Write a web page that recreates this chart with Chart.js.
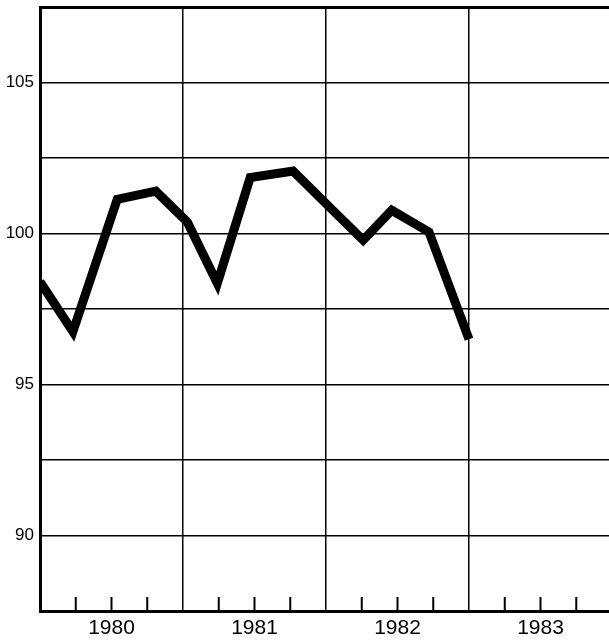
<!DOCTYPE html>
<html>
<head>
<meta charset="utf-8">
<script src="https://cdn.jsdelivr.net/npm/chart.js@4"></script>
<style>
  body { margin: 0; overflow: hidden; background: #fff; }
</style>
</head>
<body>
<canvas id="canvas" width="612" height="641"></canvas>
<script>
// quarterly index, x read as fractional years
const xYears = [1980.0, 1980.23, 1980.54, 1980.81, 1981.03, 1981.24, 1981.47, 1981.77, 1982.0, 1982.26, 1982.46, 1982.72, 1983.0];
const values = [98.4, 96.75, 101.13, 101.4, 100.38, 98.35, 101.85, 102.07, 100.99, 99.78, 100.77, 100.05, 96.5];
const yearLabels = ['1980', '1981', '1982', '1983'];
const yTickLabels = [90, 95, 100, 105];

const points = xYears.map((x, i) => ({ x: x, y: values[i] }));

// small upward ticks for each quarter
const quarterTicks = {
  id: 'quarterTicks',
  afterDatasetsDraw(chart) {
    const ctx = chart.ctx;
    const xs = chart.scales.x;
    const bottom = chart.chartArea.bottom;
    ctx.save();
    ctx.strokeStyle = '#000';
    ctx.lineWidth = 2;
    for (let y = 0; y < yearLabels.length; y++) {
      for (let q = 1; q < 4; q++) {
        const px = xs.getPixelForValue(1980 + y + q / 4);
        ctx.beginPath();
        ctx.moveTo(px, bottom);
        ctx.lineTo(px, bottom - 14);
        ctx.stroke();
      }
    }
    ctx.restore();
  }
};

var ctx = document.getElementById('canvas').getContext('2d');
var chart = new Chart(ctx, {
  type: 'line',
  data: {
    datasets: [{
      data: points,
      borderColor: '#000',
      borderWidth: 9,
      pointRadius: 0,
      tension: 0,
      fill: false,
    }]
  },
  options: {
    responsive: false,
    animation: false,
    layout: { padding: { top: 7, right: 0, left: 0, bottom: 0 } },
    plugins: { legend: { display: false }, tooltip: { enabled: false } },
    scales: {
      x: {
        type: 'linear',
        min: 1980,
        max: 1984,
        afterFit: (s) => {
          s.height = 30;
          s.paddingLeft = 0;
          s.paddingRight = 0;
        },
        ticks: {
          stepSize: 0.25,
          autoSkip: false,
          maxRotation: 0,
          padding: 5,
          color: '#000',
          font: { family: 'Liberation Sans', size: 21 },
          callback: (v) => {
            const frac = Math.round((v - Math.floor(v)) * 100);
            return frac === 50 ? yearLabels[Math.floor(v) - 1980] : '';
          }
        },
        grid: {
          drawTicks: false,
          color: (c) => Number.isInteger(c.tick.value) ? '#000' : 'rgba(0,0,0,0)',
          lineWidth: 1.5,
        },
        border: { display: true, color: '#000', width: 3 }
      },
      y: {
        type: 'linear',
        min: 87.5,
        max: 107.5,
        afterFit: (s) => {
          s.width = 40;
          s.paddingTop = 0;
          s.paddingBottom = 0;
        },
        ticks: {
          stepSize: 2.5,
          padding: 6,
          color: '#000',
          font: { family: 'Liberation Sans', size: 17 },
          callback: (v) => yTickLabels.includes(v) ? String(v) : ''
        },
        grid: {
          drawTicks: false,
          color: '#000',
          lineWidth: (c) => c.tick.value === 107.5 ? 3 : (c.tick.value === 87.5 ? 0 : 1.5),
        },
        border: { display: true, color: '#000', width: 3 }
      }
    }
  },
  plugins: [quarterTicks]
});
</script>
</body>
</html>
